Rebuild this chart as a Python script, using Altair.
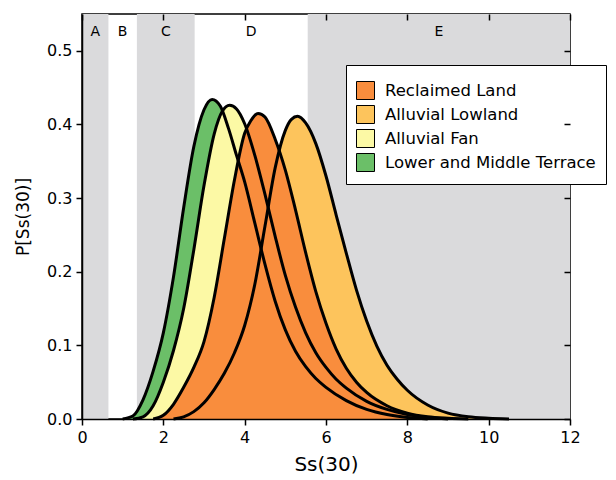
import altair as alt
import pandas as pd

FONT = "DejaVu Sans"

# ---- data ----
categories = ["Reclaimed Land", "Alluvial Lowland", "Alluvial Fan", "Lower and Middle Terrace"]
colors = ["#F98D3D", "#FDC45C", "#FCF9A5", "#6BBF68"]
draw_order = ["Lower and Middle Terrace", "Alluvial Fan", "Alluvial Lowland", "Reclaimed Land"]

green_x = [1.0, 1.25, 1.5, 1.75, 2.0, 2.25, 2.5, 2.75, 3.0, 3.2, 3.4, 3.6, 3.8, 4.0, 4.25, 4.5,
           4.75, 5.0, 5.25, 5.5, 5.75, 6.0, 6.5, 7.0, 7.5, 8.0, 8.5]
green_y = [0.000, 0.004, 0.026, 0.065, 0.117, 0.193, 0.287, 0.370, 0.420, 0.434, 0.425, 0.395,
           0.358, 0.322, 0.266, 0.210, 0.160, 0.121, 0.092, 0.071, 0.055, 0.043, 0.025, 0.013,
           0.006, 0.002, 0.000]

fan_x = [1.25, 1.5, 1.75, 2.0, 2.25, 2.5, 2.75, 3.0, 3.25, 3.45, 3.63, 3.8, 4.0, 4.25, 4.5, 4.75,
         5.0, 5.25, 5.5, 5.75, 6.0, 6.25, 6.5, 7.0, 7.5, 8.0, 8.5, 9.0]
fan_y = [0.000, 0.003, 0.018, 0.050, 0.093, 0.150, 0.230, 0.317, 0.387, 0.418, 0.426, 0.421,
         0.401, 0.358, 0.305, 0.248, 0.195, 0.152, 0.117, 0.090, 0.070, 0.054, 0.042, 0.024,
         0.013, 0.006, 0.002, 0.000]

reclaimed_x = [1.75, 2.0, 2.25, 2.5, 2.75, 3.0, 3.25, 3.5, 3.75, 4.0, 4.15, 4.33, 4.5, 4.75, 5.0,
               5.25, 5.5, 5.75, 6.0, 6.25, 6.5, 6.75, 7.0, 7.5, 8.0, 8.5, 9.0, 9.5]
reclaimed_y = [0.000, 0.005, 0.020, 0.043, 0.070, 0.105, 0.165, 0.245, 0.325, 0.388, 0.405,
               0.415, 0.410, 0.380, 0.338, 0.284, 0.226, 0.173, 0.130, 0.095, 0.069, 0.050,
               0.036, 0.018, 0.008, 0.003, 0.001, 0.000]

lowland_x = [2.25, 2.5, 2.75, 3.0, 3.25, 3.5, 3.75, 4.0, 4.25, 4.5, 4.75, 5.0, 5.15, 5.3, 5.5,
             5.75, 6.0, 6.25, 6.5, 6.75, 7.0, 7.25, 7.5, 7.75, 8.0, 8.5, 9.0, 9.5, 10.0, 10.5]
lowland_y = [0.000, 0.003, 0.010, 0.022, 0.040, 0.062, 0.090, 0.127, 0.183, 0.262, 0.341, 0.392,
             0.407, 0.411, 0.402, 0.374, 0.330, 0.277, 0.225, 0.175, 0.133, 0.099, 0.073, 0.054,
             0.039, 0.019, 0.008, 0.003, 0.001, 0.000]

band_edges = [0, 0.65, 1.35, 2.77, 5.55, 12]
band_names = ["A", "B", "C", "D", "E"]
band_gray = [True, False, True, False, True]
band_label_y = 0.526

x_ticks = [0, 2, 4, 6, 8, 10, 12]
y_ticks = [0.0, 0.1, 0.2, 0.3, 0.4, 0.5]

# ---- tables ----
series = {
    "Reclaimed Land": (reclaimed_x, reclaimed_y),
    "Alluvial Lowland": (lowland_x, lowland_y),
    "Alluvial Fan": (fan_x, fan_y),
    "Lower and Middle Terrace": (green_x, green_y),
}
frames = {c: pd.DataFrame({"x": xs, "y": ys, "cat": c}) for c, (xs, ys) in series.items()}
all_df = pd.concat(frames.values(), ignore_index=True)

bands_df = pd.DataFrame({
    "x0": band_edges[:-1], "x1": band_edges[1:], "name": band_names, "gray": band_gray,
})
bands_df["cx"] = (bands_df["x0"] + bands_df["x1"]) / 2

W, H = 488, 405

xscale = alt.Scale(domain=[0, 12], nice=False, zero=False)
yscale = alt.Scale(domain=[0, 0.55], nice=False)
color_scale = alt.Scale(domain=categories, range=colors)

legend = alt.Legend(
    title=" ", titleFontSize=3, titlePadding=3,
    orient="none", legendX=264, legendY=51, direction="vertical",
    symbolType="square", symbolSize=324, symbolStrokeColor="black", symbolStrokeWidth=1,
    symbolOpacity=1, labelFont=FONT, labelFontSize=16.5, labelColor="black",
    labelOffset=10, rowPadding=1, padding=10, strokeColor="black", fillColor="white",
    labelLimit=400,
)

axis_bottom = alt.Axis(
    orient="bottom", values=x_ticks, format="d", title="Ss(30)", tickSize=6, tickWidth=1.5,
    tickColor="black", domain=True, domainColor="black", domainWidth=1.5,
    labelFont=FONT, labelFontSize=16, labelColor="black", labelPadding=4, labelFlush=False,
    titleFont=FONT, titleFontSize=20, titleColor="black", titleFontWeight="normal",
    titlePadding=9, grid=False, zindex=1,
)
axis_left = alt.Axis(
    orient="left", values=y_ticks, format=".1f", title="P[Ss(30)]", tickSize=6, tickWidth=1.5,
    tickColor="black", domain=True, domainColor="black", domainWidth=1.5,
    labelFont=FONT, labelFontSize=16, labelColor="black", labelPadding=4, labelFlush=False,
    titleFont=FONT, titleFontSize=17, titleColor="black", titleFontWeight="normal",
    titlePadding=14, grid=False, zindex=1,
)
axis_top = alt.Axis(
    orient="top", values=x_ticks, offset=-6, tickSize=6, tickWidth=1.5, tickColor="black",
    domain=False, labels=False, title=None, grid=False, zindex=1,
)
axis_right = alt.Axis(
    orient="right", values=y_ticks, offset=-6, tickSize=6, tickWidth=1.5, tickColor="black",
    domain=False, labels=False, title=None, grid=False, zindex=1,
)

rects = alt.Chart(bands_df).transform_filter("datum.gray").mark_rect(color="#DADADC").encode(
    x=alt.X("x0:Q", scale=xscale, axis=None),
    x2="x1:Q",
    y=alt.value(0),
    y2=alt.value(H),
)

band_labels = alt.Chart(bands_df).mark_text(
    font=FONT, fontSize=14, color="black", baseline="middle", align="center"
).encode(
    x=alt.X("cx:Q", scale=xscale, axis=None),
    y=alt.Y(datum=band_label_y, scale=yscale, axis=None),
    text="name:N",
)

areas = []
for i, c in enumerate(draw_order):
    areas.append(
        alt.Chart(frames[c]).mark_area(interpolate="monotone", opacity=1, strokeWidth=0).encode(
            x=alt.X("x:Q", scale=xscale, axis=axis_bottom if i == 0 else None),
            y=alt.Y("y:Q", scale=yscale, stack=None, axis=axis_left if i == 0 else None),
            color=alt.Color("cat:N", scale=color_scale, legend=legend),
        )
    )

lines = alt.Chart(all_df).mark_line(
    interpolate="monotone", color="black", strokeWidth=3, strokeJoin="round"
).encode(
    x=alt.X("x:Q", scale=xscale, axis=axis_top),
    y=alt.Y("y:Q", scale=yscale, axis=axis_right),
    detail="cat:N",
)

chart = alt.layer(rects, band_labels, *areas, lines).resolve_axis(
    x="independent", y="independent"
).properties(
    width=W, height=H,
    padding={"left": 82, "top": 14, "right": 46, "bottom": 61},
    autosize=alt.AutoSizeParams(type="none"),
).configure(font=FONT).configure_view(stroke="black", strokeWidth=1.5)

chart.save("out.html", embed_options={"renderer": "svg", "actions": False})
